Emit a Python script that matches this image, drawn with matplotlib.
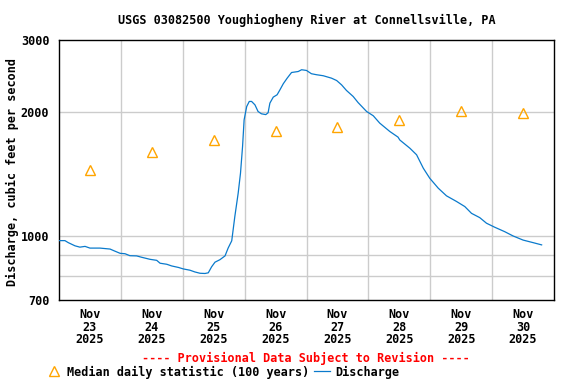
"""
USGS 03082500 Youghiogheny River at Connellsville, PA - discharge hydrograph
"""
import numpy as np
import pandas as pd
import matplotlib
matplotlib.use('Agg')
import matplotlib.pyplot as plt
import matplotlib.dates as mdates
from matplotlib.lines import Line2D

plt.rcParams['font.family'] = ['DejaVu Sans Mono']
plt.rcParams['font.weight'] = 'bold'
plt.rcParams['font.size'] = 8.5

START = pd.Timestamp('2025-11-23 00:00')

# discharge readings: hours after Nov 23 00:00, cfs
q_hours = [0.0, 2.3, 3.6, 6.2, 8.1, 10.1, 12.0, 15.9, 19.8, 21.7, 23.7, 25.6,
           27.5, 30.1, 32.1, 35.3, 37.9, 39.2, 41.8, 43.7, 46.3, 48.2, 50.8,
           52.7, 54.7, 56.6, 57.9, 59.2, 60.5, 62.4, 64.4, 65.6, 67.0, 68.2,
           69.5, 70.4, 71.2, 71.8, 72.8, 73.8, 74.7, 76.0, 77.2, 78.5, 80.2,
           81.1, 81.8, 83.1, 84.6, 85.7, 87.0, 88.5, 90.2, 92.8, 94.1, 96.0,
           97.9, 99.9, 102.5, 105.7, 107.7, 109.6, 111.5, 114.1, 116.0, 119.3,
           121.9, 124.4, 128.3, 131.5, 132.2, 136.1, 138.7, 141.3, 143.8,
           147.1, 150.3, 154.2, 157.4, 160.0, 163.2, 165.8, 169.0, 172.9,
           176.1, 180.0, 183.9, 187.2]
q_cfs = [976, 976, 965, 948, 941, 945, 936, 936, 931, 920, 909, 907,
         897, 896, 889, 879, 874, 860, 855, 847, 840, 833, 827,
         819, 813, 812, 815, 843, 865, 877, 896, 936, 975, 1117,
         1273, 1424, 1653, 1918, 2067, 2127, 2127, 2087, 2011, 1985, 1976,
         1996, 2107, 2179, 2208, 2270, 2349, 2423, 2501, 2515, 2540, 2530,
         2484, 2470, 2456, 2423, 2391, 2334, 2262, 2187, 2114, 2011,
         1963, 1884, 1798, 1742, 1714, 1637, 1578, 1464, 1384,
         1309, 1254, 1215, 1181, 1137, 1110, 1076, 1052, 1026,
         1002, 979, 965, 953]

# median daily statistic (100 years), plotted at noon
median_days = ['2025-11-23', '2025-11-24', '2025-11-25', '2025-11-26',
               '2025-11-27', '2025-11-28', '2025-11-29', '2025-11-30']
median_cfs = [1450, 1600, 1715, 1800, 1845, 1915, 2015, 1995]

y_ticks = [700, 1000, 2000, 3000]
y_grid = [800, 900, 1000, 2000]

q_time = START + pd.to_timedelta(q_hours, unit='h')
med_time = pd.to_datetime(median_days) + pd.Timedelta(hours=12)

fig = plt.figure(figsize=(5.76, 3.84), dpi=100)
ax = fig.add_axes([59 / 576, 1 - 300 / 384, 495 / 576, 260 / 384])

ax.set_yscale('log')
ax.set_ylim(700, 3000)
ax.set_xlim(START, START + pd.Timedelta(days=8))

# grid
for g in y_grid:
    ax.axhline(g, color='#cccccc', lw=1, zorder=0)
for d in range(1, 8):
    ax.axvline(START + pd.Timedelta(days=d), color='#cccccc', lw=1, zorder=0)

ax.plot(q_time, q_cfs, color='#0a7acc', lw=0.9, zorder=3)
ax.plot(med_time, median_cfs, ls='none', marker='^', ms=7, mfc='none',
        mec='#ffa500', mew=1.0, zorder=4)

ax.yaxis.set_major_locator(plt.FixedLocator(y_ticks))
ax.yaxis.set_minor_locator(plt.NullLocator())
ax.set_yticklabels([str(v) for v in y_ticks])
ax.tick_params(axis='y', length=0, pad=7)

ax.set_xticks(med_time)
ax.set_xticklabels([f"Nov\n{t.day}\n{t.year}" for t in med_time],
                   linespacing=0.95)
ax.tick_params(axis='x', length=0, pad=6)

for s in ax.spines.values():
    s.set_linewidth(1.0)
    s.set_color('black')

fig.text(0.532, 1 - 20 / 384,
         'USGS 03082500 Youghiogheny River at Connellsville, PA',
         ha='center', va='center')
fig.text(12 / 576, 1 - 172 / 384, 'Discharge, cubic feet per second',
         rotation=90, ha='center', va='center')
fig.text(306 / 576, 1 - 358 / 384,
         '---- Provisional Data Subject to Revision ----',
         color='red', ha='center', va='center')

handles = [Line2D([], [], ls='none', marker='^', ms=7, mfc='none',
                  mec='#ffa500', mew=1.0),
           Line2D([], [], color='#0a7acc', lw=0.9)]
fig.legend(handles, ['Median daily statistic (100 years)', 'Discharge'],
           loc='center left', bbox_to_anchor=(46 / 576, 1 - 372 / 384),
           ncol=2, frameon=False, handlelength=1.3, handletextpad=0.5,
           columnspacing=0.4, borderpad=0, borderaxespad=0)

fig.savefig('out.png', dpi=100)
